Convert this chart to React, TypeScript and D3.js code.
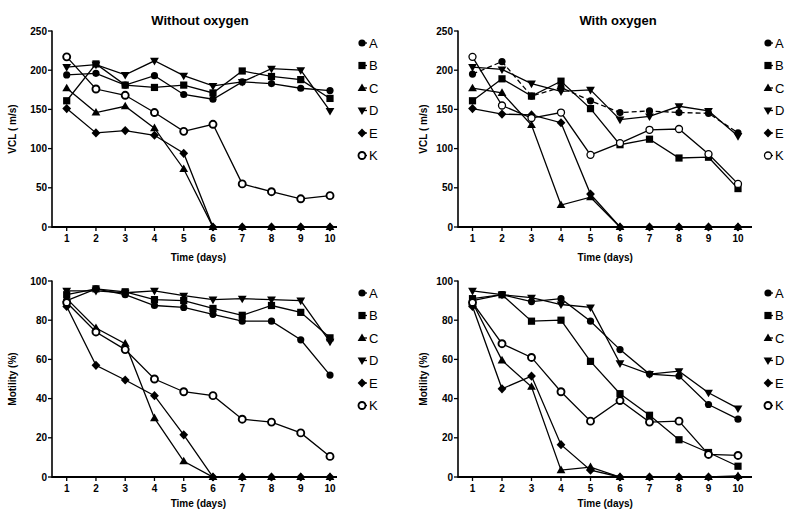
import React from "react";
import * as d3 from "d3";

const days = [1, 2, 3, 4, 5, 6, 7, 8, 9, 10];
const seriesNames = ["A", "B", "C", "D", "E", "K"];

const vclNoO2A = [194, 196, 181, 193, 169, 163, 185, 183, 177, 174];
const vclNoO2B = [161, 208, 181, 178, 181, 171, 199, 192, 188, 164];
const vclNoO2C = [177, 146, 154, 126, 74, 0, 0, 0, 0, 0];
const vclNoO2D = [204, 207, 194, 212, 193, 180, 185, 202, 200, 148];
const vclNoO2E = [151, 120, 123, 117, 94, 0, 0, 0, 0, 0];
const vclNoO2K = [217, 176, 168, 146, 122, 131, 55, 45, 36, 40];

const vclO2A = [195, 211, 167, 178, 161, 146, 148, 146, 145, 120];
const vclO2B = [161, 189, 167, 186, 151, 105, 112, 88, 89, 49];
const vclO2C = [177, 171, 130, 28, 38, 0, 0, 0, 0, 0];
const vclO2D = [204, 201, 183, 173, 175, 137, 141, 154, 148, 116];
const vclO2E = [151, 144, 143, 133, 42, 0, 0, 0, 0, 0];
const vclO2K = [217, 155, 139, 146, 92, 107, 124, 125, 93, 55];

const motNoO2A = [90, 96, 93, 87.5, 86.5, 83, 79.5, 79.5, 70, 52];
const motNoO2B = [93, 96, 94.5, 90.5, 90, 86, 82.5, 87.5, 84, 71];
const motNoO2C = [91, 76, 68, 30, 8, 0, 0, 0, 0, 0];
const motNoO2D = [95, 95, 94, 95, 92.5, 90.5, 91, 90.5, 90, 69];
const motNoO2E = [87, 57, 49.5, 41.5, 21.5, 0, 0, 0, 0, 0];
const motNoO2K = [89, 74, 65, 50, 43.5, 41.5, 29.5, 28, 22.5, 10.5];

const motO2A = [90, 93, 89.5, 91, 79.5, 65, 52.5, 51.5, 37, 29.5];
const motO2B = [91, 93, 79.5, 80, 59, 42.5, 31.5, 19, 12.5, 5.5];
const motO2C = [89, 59.5, 46, 3.5, 5, 0, 0, 0, 0, 0.5];
const motO2D = [95, 93, 91.5, 88, 86.5, 58, 52.5, 54, 43, 35];
const motO2E = [87, 45, 51.5, 16.5, 3.5, 0, 0, 0, 0, 0];
const motO2K = [89, 68, 61, 43.5, 28.5, 39, 28, 28.5, 11.5, 11];

const vclTicks = [0, 50, 100, 150, 200, 250];
const motTicks = [0, 20, 40, 60, 80, 100];

const titles = ["Without oxygen", "With oxygen"];
const yLabels = ["VCL (  m/s)", "Motility (%)"];
const xLabel = "Time (days)";

const FONT = "Arial, 'Liberation Sans', Helvetica, sans-serif";

type Panel = {
  values: number[][];
  ticks: number[];
  yMax: number;
  x0: number; x1: number; axisL: number; axisR: number;
  yTop: number; yBot: number;
  title?: string; titleX?: number;
  yLabel: string; yLabelX: number;
  xLabelOff: number;
  legendMarkX: number;
  dashedA: boolean;
  kStroke: number;
};

const panels: Panel[] = [
  { values: [vclNoO2A, vclNoO2B, vclNoO2C, vclNoO2D, vclNoO2E, vclNoO2K], ticks: vclTicks, yMax: 250,
    x0: 66.7, x1: 330, axisL: 52, axisR: 337, yTop: 31, yBot: 227, title: titles[0], titleX: 200,
    yLabel: yLabels[0], yLabelX: 16, xLabelOff: 34, legendMarkX: 362, dashedA: false, kStroke: 1.9 },
  { values: [vclO2A, vclO2B, vclO2C, vclO2D, vclO2E, vclO2K], ticks: vclTicks, yMax: 250,
    x0: 472.5, x1: 738, axisL: 458, axisR: 752, yTop: 31, yBot: 227, title: titles[1], titleX: 618,
    yLabel: yLabels[0], yLabelX: 427, xLabelOff: 34, legendMarkX: 768, dashedA: true, kStroke: 1.3 },
  { values: [motNoO2A, motNoO2B, motNoO2C, motNoO2D, motNoO2E, motNoO2K], ticks: motTicks, yMax: 100,
    x0: 66.7, x1: 330, axisL: 52, axisR: 337, yTop: 281, yBot: 477,
    yLabel: yLabels[1], yLabelX: 16, xLabelOff: 30, legendMarkX: 362, dashedA: false, kStroke: 1.9 },
  { values: [motO2A, motO2B, motO2C, motO2D, motO2E, motO2K], ticks: motTicks, yMax: 100,
    x0: 472.5, x1: 738, axisL: 458, axisR: 752, yTop: 281, yBot: 477,
    yLabel: yLabels[1], yLabelX: 427, xLabelOff: 30, legendMarkX: 768, dashedA: false, kStroke: 1.9 },
];

function Marker({ name, x, y, kStroke }: { name: string; x: number; y: number; kStroke: number }) {
  const t = `translate(${x},${y})`;
  switch (name) {
    case "A":
      return <circle cx={x} cy={y} r={3.6} fill="#000" />;
    case "B":
      return <rect x={x - 3.6} y={y - 3.6} width={7.2} height={7.2} fill="#000" />;
    case "C":
      return <path transform={t} d="M0,-4.6L4.4,3L-4.4,3Z" fill="#000" />;
    case "D":
      return <path transform={t} d="M0,4.6L4.4,-3L-4.4,-3Z" fill="#000" />;
    case "E":
      return <path transform={t} d="M0,-4.6L4.4,0L0,4.6L-4.4,0Z" fill="#000" />;
    default:
      return <circle cx={x} cy={y} r={3.5} fill="#fff" stroke="#000" strokeWidth={kStroke} />;
  }
}

function PanelView({ p }: { p: Panel }) {
  const xs = d3.scaleLinear().domain([1, 10]).range([p.x0, p.x1]);
  const ys = d3.scaleLinear().domain([0, p.yMax]).range([p.yBot, p.yTop]);
  const line = d3.line<number>().x((_, i) => xs(days[i])).y((v) => ys(v));
  const midX = (p.x0 + p.x1) / 2;
  const midY = (p.yTop + p.yBot) / 2;
  return (
    <g>
      {p.title && (
        <text x={p.titleX} y={25} textAnchor="middle" fontFamily={FONT} fontWeight="bold" fontSize={13}>
          {p.title}
        </text>
      )}
      <line x1={p.axisL} x2={p.axisL} y1={ys(p.yMax) - 0.5} y2={p.yBot + 1} stroke="#000" strokeWidth={1.6} />
      {p.ticks.map((t) => (
        <g key={t}>
          <line x1={p.axisL - 4} x2={p.axisL} y1={ys(t)} y2={ys(t)} stroke="#000" strokeWidth={1.3} />
          <text x={p.axisL - 5} y={ys(t)} dy="0.35em" textAnchor="end" fontFamily={FONT} fontWeight="bold" fontSize={10}>
            {t}
          </text>
        </g>
      ))}
      <line x1={p.axisL} x2={p.axisR} y1={p.yBot} y2={p.yBot} stroke="#000" strokeWidth={2} />
      {days.map((d) => (
        <g key={d}>
          <line x1={xs(d)} x2={xs(d)} y1={p.yBot} y2={p.yBot + 4} stroke="#000" strokeWidth={1.3} />
          <text x={xs(d)} y={p.yBot + 15} textAnchor="middle" fontFamily={FONT} fontWeight="bold" fontSize={10}>
            {d}
          </text>
        </g>
      ))}
      <text x={midX} y={p.yBot + p.xLabelOff} textAnchor="middle" fontFamily={FONT} fontWeight="bold" fontSize={10}>
        {xLabel}
      </text>
      <text transform={`translate(${p.yLabelX},${midY}) rotate(-90)`} textAnchor="middle" fontFamily={FONT} fontWeight="bold" fontSize={10}>
        {p.yLabel}
      </text>
      {p.values.map((vals, si) => (
        <path key={si} d={line(vals) || ""} fill="none" stroke="#000" strokeWidth={1.3}
          strokeDasharray={p.dashedA && si === 0 ? "5,3" : undefined} />
      ))}
      {p.values.map((vals, si) =>
        vals.map((v, i) => (
          <Marker key={`${si}-${i}`} name={seriesNames[si]} x={xs(days[i])} y={ys(v)} kStroke={p.kStroke} />
        ))
      )}
      {seriesNames.map((n, i) => {
        const ly = p.yTop + 12 + i * 22.5;
        return (
          <g key={n}>
            <line x1={p.legendMarkX} x2={p.legendMarkX + 5} y1={ly} y2={ly} stroke="#000" strokeWidth={1.3} />
            <Marker name={n} x={p.legendMarkX} y={ly} kStroke={p.kStroke} />
            <text x={p.legendMarkX + 7} y={ly} dy="0.36em" fontFamily={FONT} fontSize={13}>
              {n}
            </text>
          </g>
        );
      })}
    </g>
  );
}

export default function App() {
  return (
    <svg width={792} height={512} style={{ position: "absolute", left: 0, top: 0, background: "#fff" }}>
      <rect width={792} height={512} fill="#fff" />
      {panels.map((p, i) => (
        <PanelView key={i} p={p} />
      ))}
    </svg>
  );
}
